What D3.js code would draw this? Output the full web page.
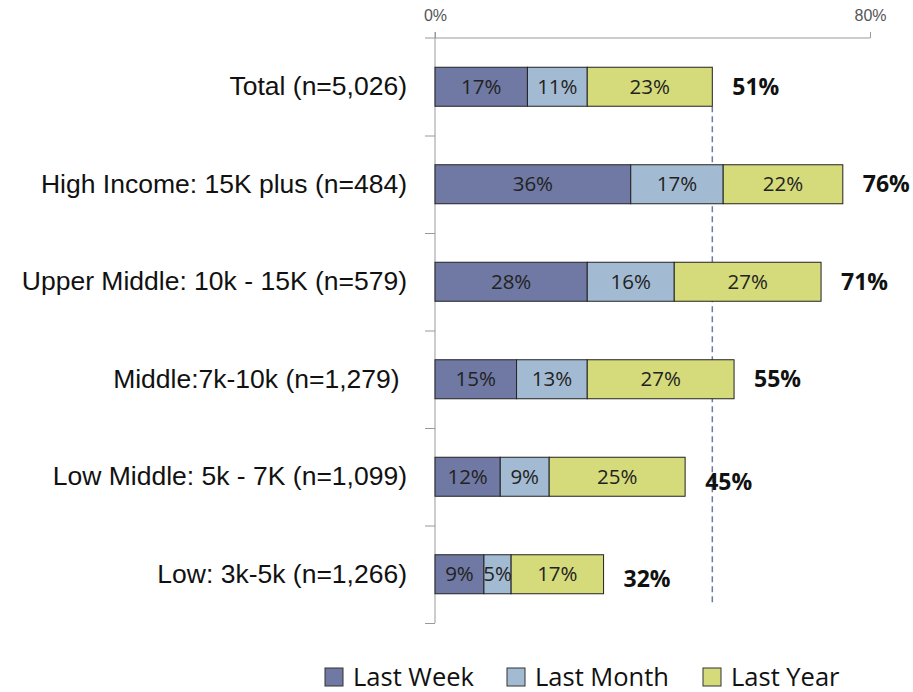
<!DOCTYPE html>
<html>
<head>
<meta charset="utf-8">
<script src="https://cdn.jsdelivr.net/npm/d3@7"></script>
<style>
  body { margin: 0; background: #fff; }
  svg { font-family: "Open Sans", "Liberation Sans", sans-serif; }
</style>
</head>
<body>
<div id="chart"></div>
<script>
// data
var categories = ["Total (n=5,026)", "High Income: 15K plus (n=484)", "Upper Middle: 10k - 15K (n=579)",
                  "Middle:7k-10k (n=1,279)\u00a0", "Low Middle: 5k - 7K (n=1,099)", "Low: 3k-5k (n=1,266)"];
var seriesNames = ["Last Week", "Last Month", "Last Year"];
var lastWeek = [17, 36, 28, 15, 12, 9];
var lastMonth = [11, 17, 16, 13, 9, 5];
var lastYear = [23, 22, 27, 27, 25, 17];
var totals = [51, 76, 71, 55, 45, 32];
var xTicks = [0, 80];
var refValue = 51; // dashed line at the Total value

var colors = ["#6f79a3", "#a3bbd2", "#d5da7a"];

var width = 913, height = 692;
var margin = {top: 38, right: 43, bottom: 69, left: 435};
var innerW = width - margin.left - margin.right;
var innerH = height - margin.top - margin.bottom;

var rows = categories.map(function (c, i) {
    return {cat: c, "Last Week": lastWeek[i], "Last Month": lastMonth[i], "Last Year": lastYear[i], total: totals[i]};
});
var stacked = d3.stack().keys(seriesNames)(rows);

var x = d3.scaleLinear().domain([0, 80]).range([0, innerW]);
var y = d3.scaleBand().domain(categories).range([0, innerH]).paddingInner(0.6).paddingOuter(0.3);
var yIdx = d3.scaleLinear().domain([0, categories.length]).range([0, innerH]);

var svg = d3.select("#chart").append("svg")
    .attr("width", width).attr("height", height);
var g = svg.append("g").attr("transform", "translate(" + margin.left + "," + margin.top + ")");

// top axis
var xAxis = g.append("g")
    .call(d3.axisTop(x).tickValues(xTicks).tickFormat(function (d) { return d + "%"; })
        .tickSizeInner(6).tickSizeOuter(0).tickPadding(11));
xAxis.select(".domain").attr("d", "M-10,0H" + x(80)).attr("stroke", "#999");
xAxis.selectAll(".tick line").attr("stroke", "#999");
xAxis.selectAll(".tick text").attr("fill", "#555").style("font-size", "16px");

// left axis with ticks between the bands
var yAxis = g.append("g")
    .call(d3.axisLeft(yIdx).tickValues(d3.range(1, categories.length + 1)).tickFormat("")
        .tickSizeInner(10).tickSizeOuter(0));
yAxis.select(".domain").attr("d", "M0,-6V" + innerH).attr("stroke", "#999");
yAxis.selectAll(".tick line").attr("stroke", "#999");

// category labels
var catAxis = g.append("g")
    .call(d3.axisLeft(y).tickSize(0).tickPadding(28));
catAxis.select(".domain").remove();
catAxis.selectAll(".tick text").attr("fill", "#111").style("font-size", "26.5px");

// reference dashed line
g.append("line")
    .attr("x1", x(refValue)).attr("x2", x(refValue))
    .attr("y1", y(categories[0]) + y.bandwidth())
    .attr("y2", innerH - 17)
    .attr("stroke", "#6f79a3").attr("stroke-width", 1.5)
    .attr("stroke-dasharray", "6,4");

// bars
var layer = g.selectAll(".stack").data(stacked).enter().append("g")
    .attr("class", "stack")
    .attr("fill", function (d, i) { return colors[i]; });

layer.selectAll("rect").data(function (d) { return d; }).enter().append("rect")
    .attr("x", function (d) { return x(d[0]); })
    .attr("y", function (d) { return y(d.data.cat); })
    .attr("width", function (d) { return x(d[1]) - x(d[0]); })
    .attr("height", y.bandwidth())
    .attr("stroke", "#222").attr("stroke-width", 1);

layer.selectAll("text").data(function (d) { return d; }).enter().append("text")
    .attr("x", function (d) { return (x(d[0]) + x(d[1])) / 2; })
    .attr("y", function (d) { return y(d.data.cat) + y.bandwidth() / 2; })
    .attr("dy", "0.35em")
    .attr("text-anchor", "middle")
    .attr("fill", "#222")
    .style("font-size", "20.5px")
    .text(function (d) { return (d[1] - d[0]) + "%"; });

// totals
g.selectAll(".total").data(rows).enter().append("text")
    .attr("class", "total")
    .attr("x", function (d) { return x(d["Last Week"] + d["Last Month"] + d["Last Year"]) + 20; })
    .attr("y", function (d, i) { return y(d.cat) + y.bandwidth() / 2 + (i >= 4 ? 5 : 0); })
    .attr("dy", "0.35em")
    .attr("fill", "#111")
    .style("font-size", "23px").style("font-weight", "bold")
    .text(function (d) { return d.total + "%"; });

// legend
var legendX = [325, 507, 703];
var legend = svg.append("g").attr("transform", "translate(0,686)");
var item = legend.selectAll("g").data(seriesNames).enter().append("g")
    .attr("transform", function (d, i) { return "translate(" + legendX[i] + ",0)"; });
item.append("rect")
    .attr("x", 0).attr("y", -18).attr("width", 18).attr("height", 18)
    .attr("fill", function (d, i) { return colors[i]; })
    .attr("stroke", "#333").attr("stroke-width", 1);
item.append("text")
    .attr("x", 28)
    .attr("fill", "#111")
    .style("font-size", "25.5px")
    .text(function (d) { return d; });
</script>
</body>
</html>
